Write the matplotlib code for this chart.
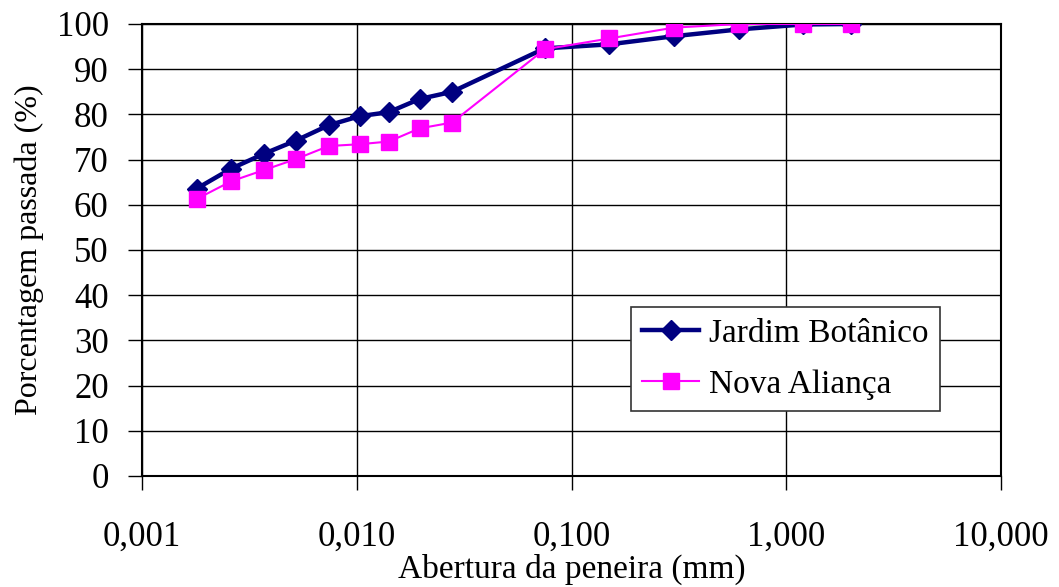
import numpy as np
import matplotlib
matplotlib.use("Agg")
import matplotlib.pyplot as plt
from matplotlib.ticker import FixedLocator, FixedFormatter, NullLocator

plt.rcParams['font.family'] = ['Liberation Serif', 'DejaVu Serif']

# abertura (mm) and percent passing
abertura = [0.0018, 0.0026, 0.0037, 0.0052, 0.0074, 0.0103, 0.0141, 0.0196, 0.0278,
            0.075, 0.15, 0.30, 0.60, 1.20, 2.00]
jardim = [63.6, 68.0, 71.3, 74.2, 77.6, 79.6, 80.5, 83.4, 85.0,
          94.6, 95.5, 97.3, 98.8, 99.9, 100.0]
nova = [61.3, 65.2, 67.7, 70.1, 73.0, 73.4, 74.0, 76.9, 78.2,
        94.4, 96.8, 99.2, 100.0, 100.0, 100.0]

xticks = [0.001, 0.01, 0.1, 1, 10]
xtick_labels = ['0,001', '0,010', '0,100', '1,000', '10,000']
yticks = list(range(0, 101, 10))

fig = plt.figure(figsize=(10.59, 5.87), dpi=100)
ax = fig.add_axes([142/1059, 1 - 476/587, 859/1059, 452/587])

ax.plot(abertura, jardim, color='#000080', lw=3.2, marker='D', ms=10,
        label='Jardim Botânico', zorder=3)
ax.plot(abertura, nova, color='#FF00FF', lw=1.5, marker='s', ms=11,
        label='Nova Aliança', zorder=4)

ax.set_xscale('log')
ax.set_xlim(0.001, 10)
ax.set_ylim(0, 100)
ax.xaxis.set_major_locator(FixedLocator(xticks))
ax.xaxis.set_major_formatter(FixedFormatter(xtick_labels))
ax.xaxis.set_minor_locator(NullLocator())
ax.set_yticks(yticks)

ax.grid(True, color='black', lw=1)
ax.set_axisbelow(True)
for s in ax.spines.values():
    s.set_linewidth(1.5)
    s.set_color('black')

ax.tick_params(axis='both', labelsize=25, direction='out', length=10, width=1)
ax.tick_params(axis='x', pad=22)
ax.tick_params(axis='y', pad=14)

ax.set_xlabel('Abertura da peneira (mm)', fontsize=24, labelpad=0)
ax.set_ylabel('Porcentagem passada (%)', fontsize=23, labelpad=9)

leg = ax.legend(loc='upper left', bbox_to_anchor=(0.569, 0.374), fontsize=24,
                frameon=True, fancybox=False, edgecolor='#333333', framealpha=1,
                borderaxespad=0, handlelength=1.7, borderpad=0.35,
                labelspacing=0.6, handletextpad=0.3)
leg.get_frame().set_linewidth(1.2)

fig.savefig('out.png', dpi=100)
